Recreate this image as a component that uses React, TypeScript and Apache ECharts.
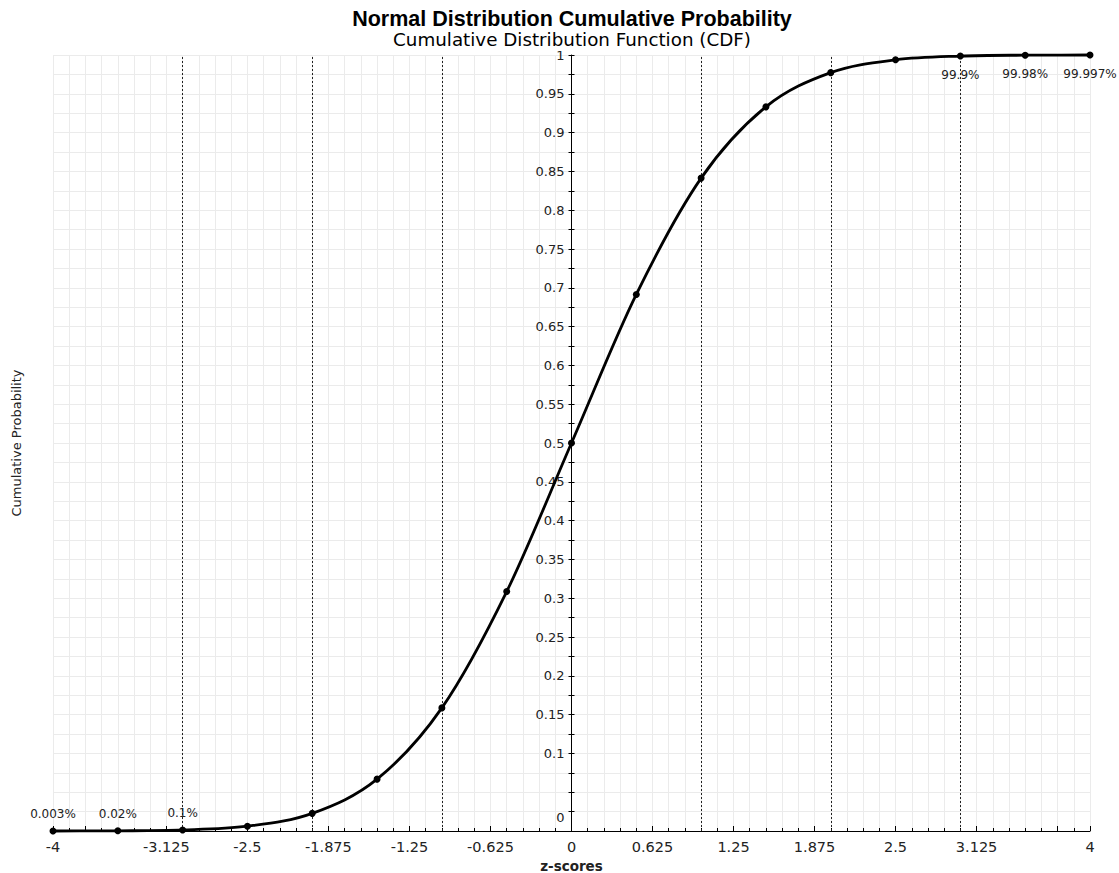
import React, { useEffect, useRef } from "react";
import * as echarts from "echarts";

const zScores = [-4, -3.5, -3, -2.5, -2, -1.5, -1, -0.5, 0, 0.5, 1, 1.5, 2, 2.5, 3, 3.5, 4];
const cdfValues = [0.00003, 0.00023, 0.00135, 0.00621, 0.02275, 0.06681, 0.15866, 0.30854, 0.5, 0.69146, 0.84134, 0.93319, 0.97725, 0.99379, 0.99865, 0.99977, 0.99997];
const pointLabels = ["0.003%", "0.02%", "0.1%", "", "", "", "", "", "", "", "", "", "", "", "99.9%", "99.98%", "99.997%"];
const sigmaLines = [-3, -2, -1, 1, 2, 3];
const xTickLabels = [-4, -3.125, -2.5, -1.875, -1.25, -0.625, 0, 0.625, 1.25, 1.875, 2.5, 3.125, 4];
const xMajorTicks = [-4, -3.75, -3.125, -2.5, -1.875, -1.25, -0.625, 0, 0.625, 1.25, 1.875, 2.5, 3.125, 3.75, 4];
const yTickLabels = [0, 0.1, 0.15, 0.2, 0.25, 0.3, 0.35, 0.4, 0.45, 0.5, 0.55, 0.6, 0.65, 0.7, 0.75, 0.8, 0.85, 0.9, 0.95, 1];

const FONT = "DejaVu Sans";
const TEXT = "#222";

const GRID_LEFT = 53;
const GRID_RIGHT = 29;
const GRID_TOP = 55;
const GRID_BOTTOM = 42;
const W = 1119;
const H = 873;

// finite-difference slope at point i (data space)
function slopeAt(i: number): number {
  const n = zScores.length;
  const a = Math.max(0, i - 1);
  const b = Math.min(n - 1, i + 1);
  return (cdfValues[b] - cdfValues[a]) / (zScores[b] - zScores[a]);
}

export default function App() {
  const ref = useRef<HTMLDivElement>(null);
  useEffect(() => {
    if (!ref.current) return;
    const chart = echarts.init(ref.current, undefined, { renderer: "svg" });
    const plotW = W - GRID_LEFT - GRID_RIGHT;
    const plotH = H - GRID_TOP - GRID_BOTTOM;
    const yAxisOffset = -plotW * (0 - -4) / 8;
    const points = zScores.map((z, i) => [z, cdfValues[i]]);
    const data = zScores.map((z, i) => {
      const lbl = pointLabels[i];
      const item: any = { value: [z, cdfValues[i]] };
      if (lbl) {
        item.label = {
          show: true,
          formatter: lbl,
          position: cdfValues[i] > 0.5 ? "bottom" : "top",
          distance: cdfValues[i] > 0.5 ? 9 : 7,
          fontFamily: FONT,
          fontSize: 12,
          color: TEXT,
        };
      }
      return item;
    });
    chart.setOption({
      animation: false,
      backgroundColor: "#fff",
      title: [
        {
          text: "Normal Distribution Cumulative Probability",
          left: 572,
          top: 8,
          padding: 0,
          textAlign: "center",
          textStyle: { fontFamily: "Liberation Sans", fontWeight: "bold", fontSize: 21.5, lineHeight: 21, color: "#000" },
        },
        {
          text: "Cumulative Distribution Function (CDF)",
          left: 572,
          top: 29,
          padding: 0,
          textAlign: "center",
          textStyle: { fontFamily: FONT, fontWeight: "normal", fontSize: 18.3, lineHeight: 20, color: "#000" },
        },
      ],
      graphic: [
        {
          type: "text",
          x: 16,
          y: GRID_TOP + plotH / 2,
          rotation: Math.PI / 2,
          style: {
            text: "Cumulative Probability",
            fontFamily: FONT,
            fontSize: 13,
            fill: TEXT,
            align: "center",
            verticalAlign: "middle",
          },
        },
      ],
      grid: { left: GRID_LEFT, right: GRID_RIGHT, top: GRID_TOP, bottom: GRID_BOTTOM, containLabel: false, outerBoundsMode: "none" },
      xAxis: [
        {
          type: "value",
          min: -4,
          max: 4,
          interval: 0.125,
          position: "bottom",
          name: "z-scores",
          nameLocation: "middle",
          nameGap: 25,
          nameTextStyle: { fontFamily: FONT, fontWeight: "bold", fontSize: 13.5, color: TEXT },
          axisLine: { show: true, onZero: false, lineStyle: { color: "#000", width: 1 } },
          axisTick: { show: true, inside: true, length: 3, lineStyle: { color: "#000" } },
          axisLabel: {
            show: true,
            customValues: xTickLabels,
            margin: 8,
            fontFamily: FONT,
            fontSize: 14.5,
            color: TEXT,
            formatter: (v: number) => String(v),
          },
          splitLine: { show: true, lineStyle: { color: "#ebebeb", width: 1 } },
        },
        {
          type: "value",
          min: -4,
          max: 4,
          position: "top",
          offset: -plotH,
          axisLine: { show: false, onZero: false },
          axisTick: { show: true, customValues: xMajorTicks, inside: false, length: 5, lineStyle: { color: "#000" } },
          axisLabel: { show: false },
          splitLine: { show: false },
        },
      ],
      yAxis: [
        {
          type: "value",
          min: 0,
          max: 1,
          interval: 0.025,
          position: "left",
          offset: yAxisOffset,
          axisLine: { show: true, onZero: false, lineStyle: { color: "#000", width: 1 } },
          axisTick: { show: true, inside: false, length: 3, lineStyle: { color: "#000" } },
          axisLabel: {
            show: true,
            customValues: yTickLabels,
            margin: 7,
            fontFamily: FONT,
            fontSize: 13,
            color: TEXT,
            formatter: (v: number) => (v === 0 ? "{z|0}" : String(+v.toFixed(3))),
            rich: { z: { fontFamily: FONT, fontSize: 13, color: TEXT, padding: [0, 0, 28, 0] } },
          },
          splitLine: { show: true, lineStyle: { color: "#ebebeb", width: 1 } },
        },
        {
          type: "value",
          min: 0,
          max: 1,
          interval: 0.025,
          position: "right",
          offset: yAxisOffset,
          axisLine: { show: false, onZero: false },
          axisTick: { show: true, inside: false, length: 3, lineStyle: { color: "#000" } },
          axisLabel: { show: false },
          splitLine: { show: false },
        },
      ],
      series: [
        {
          type: "custom",
          xAxisIndex: 0,
          yAxisIndex: 0,
          data: points,
          z: 4,
          silent: true,
          renderItem: (params: any, api: any) => {
            const i = params.dataIndex;
            if (i >= zScores.length - 1) return null;
            const x0 = zScores[i];
            const x1 = zScores[i + 1];
            const y0 = cdfValues[i];
            const y1 = cdfValues[i + 1];
            const h = x1 - x0;
            const m0 = slopeAt(i);
            const m1 = slopeAt(i + 1);
            const p0 = api.coord([x0, y0]);
            const p1 = api.coord([x1, y1]);
            const c0 = api.coord([x0 + h / 3, y0 + (m0 * h) / 3]);
            const c1 = api.coord([x1 - h / 3, y1 - (m1 * h) / 3]);
            return {
              type: "bezierCurve",
              shape: { x1: p0[0], y1: p0[1], x2: p1[0], y2: p1[1], cpx1: c0[0], cpy1: c0[1], cpx2: c1[0], cpy2: c1[1] },
              style: { stroke: "#000", lineWidth: 2.8, fill: null, lineCap: "round" },
            };
          },
        },
        {
          type: "line",
          xAxisIndex: 0,
          yAxisIndex: 0,
          data,
          symbol: "circle",
          symbolSize: 7,
          lineStyle: { width: 0, opacity: 0 },
          itemStyle: { color: "#000" },
          z: 5,
          markLine: {
            silent: true,
            symbol: "none",
            label: { show: false },
            lineStyle: { color: "#222", width: 1, type: [2, 2], opacity: 1 },
            data: sigmaLines.map((v) => ({ xAxis: v })),
          },
        },
      ],
    });
    return () => chart.dispose();
  }, []);
  return <div ref={ref} style={{ position: "absolute", left: 0, top: 0, width: W, height: H }} />;
}
